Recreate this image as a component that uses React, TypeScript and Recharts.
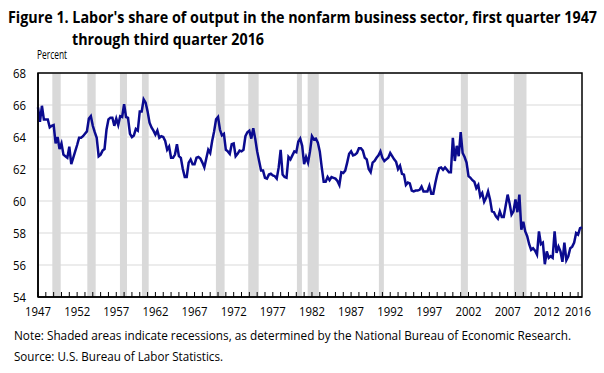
import React from 'react';
import { LineChart, Line, XAxis, YAxis, CartesianGrid, ReferenceArea } from 'recharts';

const startYear = 1947;

// Quarterly labor share, 1947Q1 .. 2016Q3 (percent)
const laborShare: number[] = [
  65.85, 64.95, 65.95, 65.1,
  65.1, 65.1, 64.6, 64.7,
  64.75, 63.6, 64.0, 63.25,
  63.6, 62.9, 62.8, 62.7,
  63.4, 62.3, 62.7, 63.1,
  63.5, 63.95, 63.95, 64.05,
  64.2, 64.35, 65.15, 65.3,
  64.7, 64.3, 63.95, 62.8,
  62.9, 63.15, 63.25, 64.45,
  65.1, 65.2, 65.2, 64.7,
  65.15, 64.75, 65.3, 65.25,
  66.05, 65.25, 65.2, 64.2,
  64.0, 64.1, 64.5, 64.4,
  65.6, 65.6, 66.35, 66.15,
  65.6, 64.9, 64.6, 64.4,
  64.15, 64.4, 63.95, 64.05,
  64.0, 63.75, 63.2, 63.4,
  62.7, 62.7, 62.9, 63.55,
  62.8, 62.7, 62.0, 61.5,
  61.5, 62.4, 62.6, 62.3,
  62.3, 62.7, 62.75, 62.65,
  62.4, 62.1, 62.65, 63.2,
  63.0, 63.75, 64.35, 65.1,
  65.25, 64.45, 64.1, 64.2,
  63.2, 63.1, 62.95, 63.55,
  63.6, 62.8, 62.95, 63.15,
  63.1, 63.2, 64.05, 64.3,
  64.4, 63.9, 64.55, 63.9,
  63.1, 62.5, 61.9, 61.9,
  61.45, 61.4, 61.65, 61.7,
  61.6, 61.55, 61.4, 62.1,
  63.2, 61.65, 61.5, 61.45,
  62.75, 62.6, 62.85, 63.1,
  63.05, 63.7, 63.9, 63.45,
  62.3, 62.75, 62.4, 63.1,
  64.05, 63.85, 63.9, 63.65,
  63.1, 62.1, 61.2, 61.2,
  61.5, 61.3, 61.5, 61.45,
  61.4, 61.25, 61.0, 61.8,
  61.75, 61.9, 62.4, 62.95,
  63.1, 62.85, 62.9, 63.0,
  63.3, 63.3, 63.15, 62.7,
  62.6, 62.0, 61.8, 62.4,
  62.5, 62.7, 62.85, 63.1,
  62.7, 62.5, 62.6, 62.7,
  63.0, 62.8, 62.6, 62.45,
  62.0, 62.2, 61.7, 61.65,
  61.0, 61.15, 61.1, 60.65,
  60.6, 60.65, 60.65, 60.7,
  60.9, 60.6, 60.6, 60.6,
  60.95, 60.45, 60.45, 61.1,
  61.65, 62.05, 62.1, 61.95,
  62.1, 61.95, 61.8, 61.8,
  63.95, 62.5, 63.45, 62.8,
  64.3, 63.0, 62.75, 62.4,
  61.55, 61.45, 61.3, 61.2,
  60.8, 61.0, 60.3, 60.5,
  59.95, 60.2, 60.6, 60.1,
  59.35, 59.3, 59.05, 58.9,
  59.35, 59.0, 59.0, 59.7,
  60.4, 59.85, 59.15, 59.35,
  60.1, 59.3, 60.4, 58.2,
  58.7, 58.1, 57.8, 57.3,
  56.95, 57.05, 56.9, 56.65,
  58.1, 57.3, 57.4, 56.05,
  56.85, 56.45, 56.55, 56.45,
  58.1, 56.75, 57.15, 56.85,
  56.2, 57.4, 56.3, 56.55,
  57.05, 57.15, 57.4, 58.0,
  57.9, 58.3, 58.35,
];

const recessionStarts = [1948.83, 1953.3, 1957.47, 1960.28, 1969.73, 1973.86, 1980.08, 1981.45, 1990.55, 2001.02, 2007.8];
const recessionEnds = [1949.9, 1954.37, 1958.37, 1961.14, 1970.84, 1975.19, 1980.72, 1982.87, 1991.19, 2001.92, 2009.41];

const yTicks = [54, 56, 58, 60, 62, 64, 66, 68];
const xTickLabels = [1947, 1952, 1957, 1962, 1967, 1972, 1977, 1982, 1987, 1992, 1997, 2002, 2007, 2012, 2016];
const xTickMarks: number[] = [];
for (let y = 1947; y <= 2016; y++) xTickMarks.push(y);

const data = laborShare.map((v, i) => ({ t: startYear + i / 4, v }));

const FONT = '"Open Sans", "Noto Sans", sans-serif';

const PLOT_LEFT = 38;
const PLOT_BOTTOM = 297;

const XTick = (props: any) => {
  const { x, payload } = props;
  const val = payload.value;
  const labeled = xTickLabels.includes(val);
  const y = PLOT_BOTTOM;
  return (
    <g>
      <line x1={x} x2={x} y1={y} y2={y - 5} stroke="#000" strokeWidth={1} />
      {labeled && (
        <text x={x} y={y + 19} textAnchor="middle" fontFamily={FONT} fontSize={13} fill="#000"
          textLength={26} lengthAdjust="spacingAndGlyphs">
          {val}
        </text>
      )}
    </g>
  );
};

const YTick = (props: any) => {
  const { y, payload } = props;
  return (
    <text x={PLOT_LEFT - 12} y={y + 4.5} textAnchor="end" fontFamily={FONT} fontSize={13} fill="#000"
      textLength={13} lengthAdjust="spacingAndGlyphs">
      {payload.value}
    </text>
  );
};

const Squeezed = ({ x, y, sx, width, children, ...rest }: any) => (
  <text transform={`translate(${x},${y}) scale(${sx},1)`} x={0} y={0} textLength={width / sx}
    lengthAdjust="spacingAndGlyphs" fontFamily={FONT} fill="#000" {...rest}>
    {children}
  </text>
);

export default function App() {
  return (
    <div style={{ position: 'absolute', left: 0, top: 0, width: 604, height: 373, background: '#fff' }}>
      <LineChart width={604} height={373} data={data} margin={{ top: 73, right: 22, bottom: 46, left: 8 }}>
        {recessionStarts.map((s, i) => (
          <ReferenceArea key={i} x1={s} x2={recessionEnds[i]} y1={54} y2={68} fill="#d9d9d9" fillOpacity={1} stroke="none" />
        ))}
        <CartesianGrid vertical={false} stroke="#d9d9d9" strokeWidth={1.2} />
        <XAxis type="number" dataKey="t" domain={[1947, 2016.5]} ticks={xTickMarks} interval={0}
          tickSize={0} tickMargin={0} height={30} tick={<XTick />} axisLine={{ stroke: '#000', strokeWidth: 1.5 }} tickLine={false} />
        <YAxis type="number" domain={[54, 68]} ticks={yTicks} interval={0} width={30}
          tickSize={0} tickMargin={0} tick={<YTick />} axisLine={{ stroke: '#000', strokeWidth: 1.5 }} tickLine={false} />
        <Line type="linear" dataKey="v" stroke="#0b0b8f" strokeWidth={2.5} dot={false} isAnimationActive={false} />
        <ReferenceArea x1={1947} x2={2016.5} y1={54} y2={68} fill="none" stroke="#000" strokeWidth={1.5} />
      </LineChart>
      <svg width={604} height={373} style={{ position: 'absolute', left: 0, top: 0, pointerEvents: 'none' }}>
        <Squeezed x={8} y={23} sx={0.8} width={589} fontWeight={700} fontSize={16.5}>
          Figure 1. Labor's share of output in the nonfarm business sector, first quarter 1947
        </Squeezed>
        <Squeezed x={72} y={45} sx={0.8} width={192} fontWeight={700} fontSize={16.5}>
          through third quarter 2016
        </Squeezed>
        <Squeezed x={37} y={59} sx={0.9} width={30} fontSize={12}>
          Percent
        </Squeezed>
        <Squeezed x={14} y={340} sx={0.84} width={557} fontSize={13}>
          Note: Shaded areas indicate recessions, as determined by the National Bureau of Economic Research.
        </Squeezed>
        <Squeezed x={14} y={361} sx={0.84} width={209} fontSize={13}>
          Source: U.S. Bureau of Labor Statistics.
        </Squeezed>
      </svg>
    </div>
  );
}
